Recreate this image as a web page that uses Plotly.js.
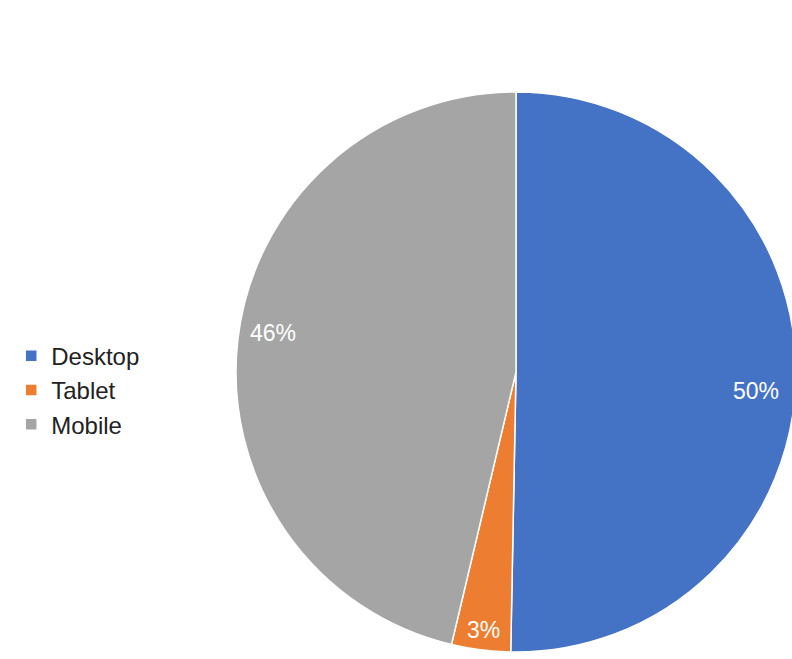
<!DOCTYPE html>
<html>
<head>
<meta charset="utf-8">
<script src="https://cdn.plot.ly/plotly-3.0.1.min.js"></script>
<style>
html,body{margin:0;padding:0;overflow:hidden;background:#fff;}
#chart{width:800px;height:659px;}
</style>
</head>
<body>
<div id="chart"></div>
<script>
const labels = ["Desktop", "Tablet", "Mobile"];
const values = [50.3, 3.4, 46.3];
const colors = ["#4472C4", "#ED7D31", "#A5A5A5"];

// layout settings (pixel geometry of the page)
const W = 800, H = 659;
const domX = [0.295, 0.995], domY = [0.0106, 0.8604];
const labelRadius = [0.86, 0.93, 0.88]; // fraction of radius for each label
const labelShift = [4, 0, 2.5];          // small angular tweak in degrees

const trace = {
  type: "pie",
  labels: labels,
  values: values,
  sort: false,
  direction: "clockwise",
  rotation: 0,
  marker: {colors: colors, line: {color: "#ffffff", width: 1.5}},
  textinfo: "none",
  domain: {x: domX, y: domY},
  hoverinfo: "label+percent"
};

// data-driven label positions at each slice's mid-angle
const cx = (domX[0] + domX[1]) / 2 * W;
const cy = (1 - (domY[0] + domY[1]) / 2) * H;
const R = Math.min((domX[1] - domX[0]) * W, (domY[1] - domY[0]) * H) / 2;
const total = values.reduce((a, b) => a + b, 0);
let cum = 0;
const annotations = values.map((v, i) => {
  const mid = (cum + v / 2) / total * 360 + labelShift[i];
  cum += v;
  const a = mid * Math.PI / 180;
  const px = cx + Math.sin(a) * R * labelRadius[i];
  const py = cy - Math.cos(a) * R * labelRadius[i];
  return {
    xref: "paper", yref: "paper",
    x: px / W, y: 1 - py / H,
    xanchor: "center", yanchor: "middle",
    text: Math.round(v) + "%",
    showarrow: false,
    font: {family: "Liberation Sans, Arial, sans-serif", size: 23, color: "#ffffff"}
  };
});

const layout = {
  width: W,
  height: H,
  margin: {l: 0, r: 0, t: 0, b: 0},
  paper_bgcolor: "#ffffff",
  showlegend: true,
  annotations: annotations,
  legend: {
    x: 0.014, y: 0.408, xanchor: "left", yanchor: "middle",
    font: {family: "Liberation Sans, Arial, sans-serif", size: 24, color: "#222222"},
    bgcolor: "rgba(0,0,0,0)"
  }
};

Plotly.newPlot("chart", [trace], layout, {staticPlot: true});
</script>
</body>
</html>
